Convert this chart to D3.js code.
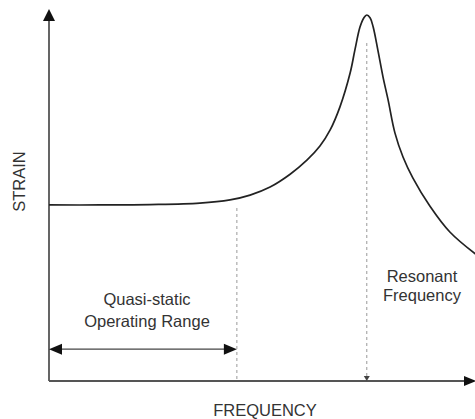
<!DOCTYPE html>
<html>
<head>
<meta charset="utf-8">
<script src="https://cdn.jsdelivr.net/npm/d3@7"></script>
<style>
  html, body { margin: 0; padding: 0; background: #fff; }
  svg { display: block; }
  text { font-family: "Liberation Sans", Arial, sans-serif; fill: #333; }
</style>
</head>
<body>
<svg id="chart" width="475" height="419"></svg>
<script>
// Response curve: relative frequency vs relative strain (arbitrary units, 0-100)
const frequency = [0, 12.0, 23.7, 35.4, 42.5, 47.2, 51.9, 56.6, 60.6, 63.6, 66.0, 68.3, 70.7, 71.8, 73.0, 73.9, 74.6, 75.4, 76.1, 77.2, 78.4, 79.6, 81.2, 83.1, 85.4, 89.4, 94.1, 100.2];
const strain    = [48.1, 48.1, 48.2, 48.6, 49.5, 50.8, 53.0, 56.5, 60.4, 64.2, 68.6, 74.9, 84.2, 90.4, 96.7, 99.2, 100, 99.2, 96.7, 90.4, 83.1, 76.8, 67.8, 61.2, 55.5, 47.8, 40.7, 34.6];

// Marked frequencies
const quasiStaticLimit = 44.1;
const resonantFrequency = 74.6;
const rangeArrowLevel = 8.7;

const axisLabels = { x: "FREQUENCY", y: "STRAIN" };
const rangeLabel = ["Quasi-static", "Operating Range"];
const resonanceLabel = ["Resonant", "Frequency"];

const svg = d3.select("#chart");
const x = d3.scaleLinear().domain([0, 100]).range([49, 475]);
const y = d3.scaleLinear().domain([0, 100]).range([381, 15]);

const axisColor = "#555";

// Axes with arrowheads
svg.append("line")
  .attr("x1", x(0)).attr("y1", y(0)).attr("x2", x(0)).attr("y2", 16)
  .attr("stroke", axisColor).attr("stroke-width", 1.8);
svg.append("path")
  .attr("d", `M${x(0)},9 L${x(0) - 6},21 L${x(0) + 6},21 Z`)
  .attr("fill", "#111");

svg.append("line")
  .attr("x1", x(0)).attr("y1", y(0)).attr("x2", 468).attr("y2", y(0))
  .attr("stroke", axisColor).attr("stroke-width", 1.8);
svg.append("path")
  .attr("d", `M476,${y(0)} L464,${y(0) - 5} L464,${y(0) + 5} Z`)
  .attr("fill", "#111");

// Dashed markers
const dashColor = "#999";
svg.append("line")
  .attr("x1", x(quasiStaticLimit)).attr("x2", x(quasiStaticLimit))
  .attr("y1", 208).attr("y2", y(0))
  .attr("stroke", dashColor).attr("stroke-width", 1)
  .attr("stroke-dasharray", "3,3");
svg.append("line")
  .attr("x1", x(resonantFrequency)).attr("x2", x(resonantFrequency))
  .attr("y1", 43).attr("y2", y(0) - 4)
  .attr("stroke", dashColor).attr("stroke-width", 1)
  .attr("stroke-dasharray", "3,3");
svg.append("path")
  .attr("d", `M${x(resonantFrequency)},${y(0)} L${x(resonantFrequency) - 3},${y(0) - 5} L${x(resonantFrequency) + 3},${y(0) - 5} Z`)
  .attr("fill", "#444");

// Strain response curve
const pts = frequency.map((f, i) => [f, strain[i]]);
const line = d3.line().x(d => x(d[0])).y(d => y(d[1])).curve(d3.curveCatmullRom.alpha(0.5));
svg.append("path")
  .datum(pts)
  .attr("d", line)
  .attr("fill", "none")
  .attr("stroke", "#222")
  .attr("stroke-width", 1.7);

// Quasi-static range double arrow
const ay = y(rangeArrowLevel);
svg.append("line")
  .attr("x1", x(0) + 10).attr("x2", x(quasiStaticLimit) - 10)
  .attr("y1", ay).attr("y2", ay)
  .attr("stroke", "#444").attr("stroke-width", 1.2);
svg.append("path")
  .attr("d", `M${x(0)},${ay} L${x(0) + 13},${ay - 5.5} L${x(0) + 13},${ay + 5.5} Z`)
  .attr("fill", "#111");
svg.append("path")
  .attr("d", `M${x(quasiStaticLimit)},${ay} L${x(quasiStaticLimit) - 13},${ay - 5.5} L${x(quasiStaticLimit) - 13},${ay + 5.5} Z`)
  .attr("fill", "#111");

// Labels
const fs = "16.5px";
svg.append("text")
  .attr("x", 265).attr("y", 416)
  .attr("text-anchor", "middle").style("font-size", fs)
  .text(axisLabels.x);
svg.append("text")
  .attr("transform", "translate(25,181.5) rotate(-90)")
  .attr("text-anchor", "middle").style("font-size", fs)
  .text(axisLabels.y);

rangeLabel.forEach((t, i) => {
  svg.append("text")
    .attr("x", 147).attr("y", 305 + i * 21.5)
    .attr("text-anchor", "middle").style("font-size", fs)
    .text(t);
});
resonanceLabel.forEach((t, i) => {
  svg.append("text")
    .attr("x", 422).attr("y", 282 + i * 19)
    .attr("text-anchor", "middle").style("font-size", fs)
    .text(t);
});
</script>
</body>
</html>
